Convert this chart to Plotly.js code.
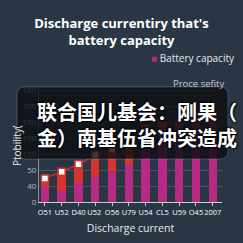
<!DOCTYPE html>
<html><head><meta charset="utf-8">
<script src="https://cdn.plot.ly/plotly-3.0.1.min.js"></script>
<style>html,body{margin:0;padding:0;background:#2b3644;}#c{width:243px;height:243px;}</style>
</head><body><div id="c"></div>
<script>
const categories = ['O51','U52','D40','U52 ','O56','U79','U54','CL5','U59','O45','2007'];
const capacityBase = [0.92, 0.70, 1.17, 1.58, 1.96, 2.30, 4.40, 4.30, 4.60, 4.80, 5.00];
const capacityTop  = [0.56, 1.20, 1.20, 1.36, 1.34, 1.70, 0.50, 0.80, 0.60, 0.60, 0.70];
const safetyLine   = [1.48, 1.90, 2.37, 2.94, 3.30, 4.00, null, null, null, null, null];
const yTickVals  = [0,1,2,3,4,5,6,7];
const yTickText  = ['0','40','50','150','190','150','100','180'];
const titleText = "Discharge currentiry that's<br>battery capacity";
const legendText = 'Battery capacity';
const seriesLabel = 'Proce sefity';
const captionLines = ['联合国儿基会：刚果（', '金）南基伍省冲突造成'];
const xTitle = 'Discharge current';
const yTitle = 'Ptobility(';

const L=39, R=21, T=88, B=41, W=243, H=243;
const pw = W-L-R, ph = H-T-B;
const px = v => (v-L)/pw;
const py = v => (H-B-v)/ph;

const traces = [
  {type:'bar', x:categories, y:capacityBase, marker:{color:'#b42a84'}, showlegend:false, hoverinfo:'skip'},
  {type:'bar', x:categories, y:capacityTop, marker:{color:'#d8342f'}, showlegend:false, hoverinfo:'skip'},
  {type:'scatter', mode:'lines+markers', x:categories, y:safetyLine,
   line:{color:'#c8302e', width:1.5},
   marker:{symbol:'square', size:7, color:'#ffffff', line:{color:'#d8342f', width:1.5}},
   showlegend:false, cliponaxis:false}
];

const x0=px(17), x1=px(228), y0=py(159), y1=py(87);
const rx=8/pw, ry=8/ph;
const boxPath = `M${x0+rx},${y1} L${x1-rx},${y1} Q${x1},${y1} ${x1},${y1-ry} L${x1},${y0+ry} Q${x1},${y0} ${x1-rx},${y0} L${x0+rx},${y0} Q${x0},${y0} ${x0},${y0+ry} L${x0},${y1-ry} Q${x0},${y1} ${x0+rx},${y1} Z`;

const capFont = {size:20, color:'#ffffff', weight:'bold', family:'Noto Sans CJK SC', shadow:'1px 1px 2px #000, -1px -1px 2px #000'};

const layout = {
  width:W, height:H,
  margin:{l:L, r:R, t:T, b:B, autoexpand:false},
  paper_bgcolor:'#2b3644', plot_bgcolor:'#2b3644',
  barmode:'stack', bargap:0.5,
  font:{family:'Open Sans, sans-serif', color:'#e6e9ee'},
  title:{text:titleText, font:{size:13, color:'#ffffff', weight:'bold', family:'Open Sans'},
         x:0.5, xanchor:'center', y:1-28/243, yanchor:'middle', yref:'container'},
  xaxis:{type:'category', range:[-0.35,10.55], showgrid:false, showline:true, linecolor:'#c9ced6', linewidth:1,
         ticks:'outside', ticklen:3, tickcolor:'#c9ced6', tickangle:0, automargin:false,
         tickfont:{size:7.5, color:'#ffffff'},
         title:{text:xTitle, font:{size:10.5, color:'#e6e9ee'}, standoff:8}, fixedrange:true},
  yaxis:{range:[0,7.15], tickvals:yTickVals, ticktext:yTickText, showgrid:true, gridcolor:'#4a5563', gridwidth:1,
         showline:true, linecolor:'#8a929e', zeroline:false, automargin:false, tickfont:{size:8, color:'#b9bfc8'},
         fixedrange:true},
  shapes:[
    {type:'path', xref:'paper', yref:'paper', path:boxPath, fillcolor:'rgba(14,16,20,0.82)',
     line:{color:'rgba(255,255,255,0.18)', width:1}, layer:'above'}
  ],
  annotations:[
    {xref:'paper', yref:'paper', x:px(17), y:py(146), xanchor:'center', yanchor:'middle', showarrow:false,
     textangle:-90, text:yTitle, font:{size:10, color:'#e6e9ee'}},
    {xref:'paper', yref:'paper', x:px(149), y:py(58), xanchor:'left', yanchor:'middle', showarrow:false,
     text:'<span style="color:#b42a84">■</span> '+legendText, font:{size:10, color:'#e6e9ee'}},
    {xref:'paper', yref:'paper', x:px(199), y:py(83), xanchor:'center', yanchor:'middle', showarrow:false,
     text:seriesLabel, font:{size:9.5, color:'#c3c8cf'}},
    {xref:'paper', yref:'paper', x:px(36), y:py(124), xanchor:'left', yanchor:'middle', align:'left', showarrow:false,
     borderpad:0, text:captionLines.join('<br>'), font:capFont}
  ]
};
Plotly.newPlot('c', traces, layout, {staticPlot:true, displayModeBar:false});
</script></body></html>
